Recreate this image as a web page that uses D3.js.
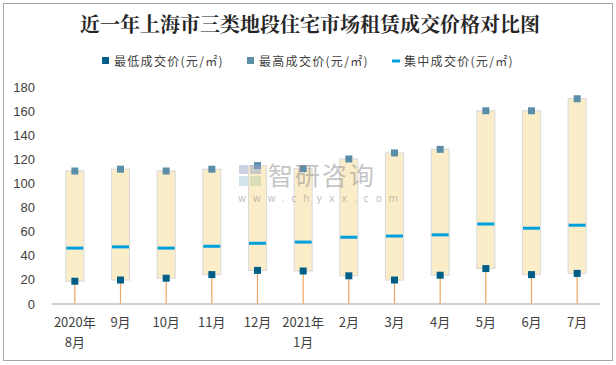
<!DOCTYPE html>
<html><head><meta charset="utf-8">
<script src="https://cdn.jsdelivr.net/npm/d3@7"></script>
<style>body{margin:0;background:#fff}svg{display:block}</style>
</head><body>
<script>
const categories = [["2020年","8月"],["9月"],["10月"],["11月"],["12月"],["2021年","1月"],["2月"],["3月"],["4月"],["5月"],["6月"],["7月"]];
const minValues = [18.5, 19.5, 21, 24, 27.5, 27, 23, 19.5, 23.5, 29, 24, 25];
const maxValues = [110, 111.5, 110, 111.5, 114.5, 112, 120, 125, 128, 160, 160, 170];
const midValues = [46, 47, 46, 47.5, 50, 51, 55, 56, 57, 66, 62.5, 65];
const yTicks = [0, 20, 40, 60, 80, 100, 120, 140, 160, 180];
const legendLabels = ["最低成交价(元/㎡)", "最高成交价(元/㎡)", "集中成交价(元/㎡)"];
const title = "近一年上海市三类地段住宅市场租赁成交价格对比图";

const W = 616, H = 365;
const svg = d3.select("body").append("svg").attr("width", W).attr("height", H);
svg.append("rect").attr("x", 3.5).attr("y", 3.5).attr("width", 609).attr("height", 357)
  .attr("fill", "#fff").attr("stroke", "#a6a6a6").attr("stroke-width", 1);

const x = d3.scaleBand().domain(d3.range(categories.length)).range([52, 600]).paddingInner(0).paddingOuter(0);
const y = d3.scaleLinear().domain([0, 180]).range([303.5, 86.7]);
const cx = i => x(i) + x.bandwidth() / 2;

svg.append("text").attr("x", 310).attr("y", 32).attr("text-anchor", "middle")
  .attr("font-family", "'Noto Serif CJK SC','Noto Sans CJK SC',serif").attr("font-weight", "bold")
  .attr("font-size", 20).attr("fill", "#262626").text(title);

// legend
const legColors = ["#005f86", "#5b8ea8", "#00a0dc"];
const legX = [102, 247, 392];
legendLabels.forEach((t, i) => {
  const g = svg.append("g");
  if (i < 2) g.append("rect").attr("x", legX[i]).attr("y", 57).attr("width", 7).attr("height", 7).attr("fill", legColors[i]);
  else g.append("rect").attr("x", legX[i]).attr("y", 59.5).attr("width", 8).attr("height", 3).attr("fill", legColors[i]);
  g.append("text").attr("x", legX[i] + 12).attr("y", 65.5).attr("font-size", 12).attr("letter-spacing", 1.3)
    .attr("font-family", "'Noto Sans CJK SC',sans-serif").attr("fill", "#404040").text(t);
});

// y axis labels
const yAxis = d3.axisLeft(y).tickValues(yTicks).tickSize(0).tickPadding(0);
const ya = svg.append("g").attr("transform", "translate(35,0)").call(yAxis);
ya.select(".domain").remove();
ya.selectAll("text").attr("font-size", 13).attr("font-family", "'Liberation Sans',Arial,sans-serif").attr("fill", "#404040").attr("dy", "0.35em");

// stems
svg.append("g").selectAll("line").data(minValues).join("line")
  .attr("x1", (d, i) => cx(i)).attr("x2", (d, i) => cx(i))
  .attr("y1", d => y(d)).attr("y2", y(0))
  .attr("stroke", "#f0a660").attr("stroke-width", 1.2);

// boxes
svg.append("g").selectAll("rect").data(maxValues).join("rect")
  .attr("x", (d, i) => cx(i) - 9).attr("width", 18)
  .attr("y", d => y(d)).attr("height", (d, i) => y(minValues[i]) - y(d))
  .attr("fill", "#fcedc9").attr("stroke", "#dcdcdc").attr("stroke-width", 1.2);

// axis line
svg.append("line").attr("x1", 52).attr("x2", 600).attr("y1", y(0) + 0.5).attr("y2", y(0) + 0.5)
  .attr("stroke", "#a0a0a0").attr("stroke-width", 1.2);

// median
svg.append("g").selectAll("rect").data(midValues).join("rect")
  .attr("x", (d, i) => cx(i) - 8.5).attr("width", 17)
  .attr("y", d => y(d) - 1.5).attr("height", 3).attr("fill", "#00a0dc");

// markers
svg.append("g").selectAll("rect").data(minValues).join("rect")
  .attr("x", (d, i) => cx(i) - 3.5).attr("y", d => y(d) - 3.5).attr("width", 7).attr("height", 7).attr("fill", "#005f86");
svg.append("g").selectAll("rect").data(maxValues).join("rect")
  .attr("x", (d, i) => cx(i) - 3.5).attr("y", d => y(d) - 3.5).attr("width", 7).attr("height", 7).attr("fill", "#5b8ea8");

// x labels
categories.forEach((lines, i) => {
  lines.forEach((t, j) => {
    svg.append("text").attr("x", cx(i)).attr("y", 327 + j * 20).attr("text-anchor", "middle")
      .attr("font-size", 13).attr("font-family", "'Noto Sans CJK SC',sans-serif").attr("fill", "#404040").text(t);
  });
});

// watermark
const wm = svg.append("g").attr("opacity", 0.5);
wm.append("rect").attr("x", 239).attr("y", 165).attr("width", 9).attr("height", 9).attr("fill", "#9aa7c8");
wm.append("rect").attr("x", 250).attr("y", 165).attr("width", 11).attr("height", 9).attr("fill", "#9aa7c8");
wm.append("rect").attr("x", 239).attr("y", 176).attr("width", 9).attr("height", 10).attr("fill", "#a8c8d8");
wm.append("rect").attr("x", 250).attr("y", 176).attr("width", 11).attr("height", 10).attr("fill", "#b8d0a8");
wm.append("text").attr("x", 268).attr("y", 185).attr("font-size", 25).attr("letter-spacing", 2)
  .attr("font-family", "'Noto Sans CJK SC',sans-serif").attr("fill", "#8c8c8c").text("智研咨询");
wm.append("text").attr("x", 238).attr("y", 202).attr("font-size", 10).attr("letter-spacing", 6.6)
  .attr("font-family", "'DejaVu Sans',sans-serif").attr("fill", "#8c8c8c").text("www.chyxx.com");
</script>
</body></html>
